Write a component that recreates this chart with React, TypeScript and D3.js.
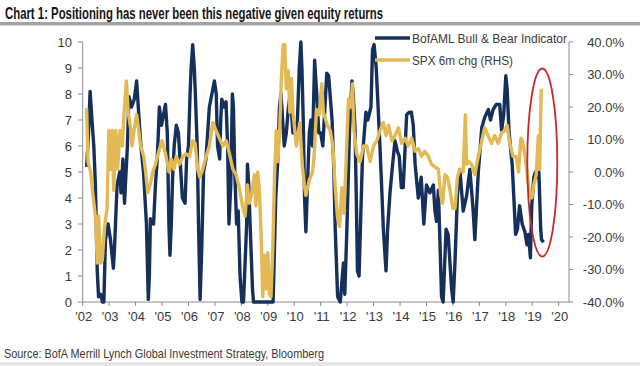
import React from "react";
import * as d3 from "d3";

const yearTicks = ["'02","'03","'04","'05","'06","'07","'08","'09","'10","'11","'12","'13","'14","'15","'16","'17","'18","'19","'20"];
const leftTicks = [0,1,2,3,4,5,6,7,8,9,10];
const rightTicks = [-40,-30,-20,-10,0,10,20,30,40];

const bbDates = [2002.15,2002.22,2002.28,2002.35,2002.42,2002.48,2002.55,2002.6,2002.68,2002.75,2002.8,2002.86,2002.96,2003.05,2003.16,2003.2,2003.3,2003.4,2003.45,2003.52,2003.58,2003.69,2003.75,2003.85,2003.95,2004.04,2004.12,2004.2,2004.3,2004.41,2004.48,2004.52,2004.56,2004.68,2004.75,2004.82,2004.9,2004.98,2005.13,2005.2,2005.26,2005.3,2005.35,2005.4,2005.46,2005.54,2005.62,2005.68,2005.77,2005.87,2005.93,2006.0,2006.06,2006.1,2006.16,2006.22,2006.26,2006.33,2006.38,2006.44,2006.5,2006.57,2006.66,2006.79,2006.98,2007.05,2007.1,2007.18,2007.22,2007.26,2007.35,2007.42,2007.48,2007.53,2007.6,2007.66,2007.7,2007.75,2007.82,2007.88,2007.95,2008.02,2008.08,2008.12,2008.2,2008.23,2008.28,2008.33,2008.42,2008.46,2009.2,2009.25,2009.3,2009.38,2009.44,2009.5,2009.56,2009.62,2009.7,2009.78,2009.85,2009.95,2010.05,2010.12,2010.19,2010.25,2010.29,2010.34,2010.39,2010.44,2010.5,2010.57,2010.63,2010.69,2010.77,2010.85,2010.93,2011.0,2011.08,2011.23,2011.3,2011.43,2011.49,2011.55,2011.64,2011.74,2011.86,2011.91,2011.99,2012.09,2012.18,2012.23,2012.3,2012.35,2012.39,2012.45,2012.52,2012.58,2012.71,2012.78,2012.9,2012.96,2013.02,2013.1,2013.18,2013.24,2013.31,2013.37,2013.47,2013.53,2013.62,2013.72,2013.81,2013.9,2013.97,2014.05,2014.12,2014.25,2014.35,2014.43,2014.5,2014.57,2014.69,2014.8,2014.9,2015.0,2015.13,2015.26,2015.32,2015.38,2015.45,2015.51,2015.57,2015.63,2015.74,2015.82,2015.95,2016.01,2016.08,2016.17,2016.26,2016.39,2016.52,2016.64,2016.76,2016.83,2016.96,2017.09,2017.2,2017.34,2017.42,2017.52,2017.64,2017.77,2017.84,2017.92,2018.0,2018.05,2018.12,2018.18,2018.24,2018.3,2018.37,2018.44,2018.52,2018.62,2018.72,2018.8,2018.86,2018.93,2018.98,2019.06,2019.12,2019.18,2019.25,2019.32,2019.35,2019.43];
const bbValues = [5.2,6.5,8.1,7.0,6.0,4.5,1.2,0.2,0.3,0,0,2.4,3.0,2.4,1.3,2.0,4.5,5.0,4.2,5.5,3.8,6.0,7.9,7.5,7.8,8.5,7.2,6.0,5.0,3.0,0.1,1.0,3.2,3.0,4.5,5.5,7.5,6.8,7.6,6.5,3.0,1.8,3.0,4.8,6.0,6.8,6.5,5.5,4.0,3.8,5.5,6.0,8.0,9.0,9.9,9.0,8.0,6.0,3.0,0.1,2.0,5.0,5.5,7.5,8.5,8.0,6.0,5.5,7.0,7.8,7.5,7.7,6.0,3.0,4.5,8.0,7.5,5.0,3.0,3.5,1.0,0,0,1.0,3.0,5.3,4.5,3.0,0.5,0,0,2.0,4.0,5.5,7.5,8.0,7.0,6.0,6.5,7.5,8.0,6.5,6.5,7.0,9.0,10.0,9.0,7.0,4.0,2.7,4.5,6.5,7.0,6.0,9.3,8.0,6.5,6.5,6.0,8.8,8.7,7.0,5.3,2.8,0.2,0,1.5,0.3,2.8,6.6,8.5,8.0,6.6,3.8,1.2,1.0,3.5,5.6,7.3,7.0,7.5,9.7,9.9,9.0,7.3,6.0,4.3,2.8,1.2,2.8,4.2,5.3,6.2,5.8,5.6,4.4,4.4,7.2,7.3,7.3,6.8,5.3,4.0,4.8,3.0,4.5,4.2,4.5,3.5,3.1,4.3,2.3,0.2,0,2.8,2.6,0.5,0,1.6,4.1,5.1,3.5,4.1,5.1,3.6,2.4,5.0,6.7,7.1,7.4,7.0,7.4,7.6,7.6,6.6,7.2,8.7,8.2,6.6,5.9,5.3,4.1,2.6,2.8,3.7,3.0,2.7,2.2,2.6,1.7,3.7,4.8,5.0,4.8,5.0,2.8,2.4,2.3];

const spxDates = [2002.15,2002.2,2002.3,2002.38,2002.49,2002.55,2002.6,2002.68,2002.74,2002.83,2002.92,2002.99,2003.05,2003.12,2003.17,2003.25,2003.32,2003.41,2003.5,2003.56,2003.65,2003.72,2003.81,2003.87,2003.94,2004.04,2004.12,2004.19,2004.31,2004.38,2004.46,2004.57,2004.65,2004.75,2004.88,2005.0,2005.13,2005.26,2005.35,2005.45,2005.54,2005.66,2005.79,2005.91,2006.04,2006.16,2006.25,2006.35,2006.43,2006.54,2006.67,2006.79,2006.92,2007.04,2007.21,2007.3,2007.43,2007.55,2007.68,2007.8,2007.92,2008.04,2008.14,2008.23,2008.3,2008.4,2008.49,2008.55,2008.62,2008.68,2008.74,2008.81,2008.87,2008.94,2009.0,2009.06,2009.12,2009.19,2009.25,2009.32,2009.38,2009.45,2009.51,2009.58,2009.64,2009.7,2009.77,2009.83,2009.89,2009.95,2010.02,2010.08,2010.21,2010.26,2010.31,2010.38,2010.44,2010.57,2010.69,2010.75,2010.84,2010.94,2011.04,2011.1,2011.25,2011.36,2011.46,2011.55,2011.63,2011.71,2011.8,2011.88,2011.96,2012.05,2012.14,2012.2,2012.26,2012.36,2012.49,2012.62,2012.74,2012.87,2013.0,2013.12,2013.25,2013.37,2013.47,2013.57,2013.69,2013.81,2013.94,2014.06,2014.19,2014.31,2014.44,2014.57,2014.69,2014.81,2014.94,2015.07,2015.19,2015.32,2015.45,2015.54,2015.61,2015.7,2015.79,2015.89,2016.0,2016.08,2016.17,2016.26,2016.39,2016.47,2016.52,2016.6,2016.7,2016.83,2016.96,2017.09,2017.2,2017.33,2017.46,2017.58,2017.71,2017.84,2017.96,2018.05,2018.15,2018.27,2018.39,2018.48,2018.57,2018.63,2018.73,2018.81,2018.9,2018.98,2019.06,2019.15,2019.23,2019.28,2019.34];
const spxValues = [19.6,3.2,0,-6.4,-14.4,-28,-13.6,-28,-27.2,-16.8,-11.2,12.8,0.8,12.8,-5.6,12.8,0.8,12.8,8,17.6,28,18.4,13.6,8,12.8,17.6,12.8,8,4.8,0,-6.4,-3.2,0,2.4,6.4,9.6,5.6,0,4,0.8,4.8,2.4,4.8,5.6,4.8,9.6,8.8,0.8,-1.6,0.8,4.8,8,15.2,12.8,9.6,8,9.6,5.6,0.8,-0.8,-4.8,-10.4,-13.6,-4,-9.6,-6.4,-0.8,-10.4,0,-5.6,-17.6,-38.4,-25.6,-36,-24.8,-37.6,-38.4,-23.2,-2.4,12.8,3.2,12.8,28,39.2,39.2,25.6,31.2,18.4,28.8,18.4,12.8,8,15.2,8,1.6,-4,-7.2,-2.4,0,4.8,19.2,17.6,27.2,18.4,14.4,12.8,8,-4.8,-13.6,-16.8,-4.8,-12.8,3.2,22.4,20,27.2,12.8,5.6,3.2,8,8,3.2,8,9.6,12.8,15.2,11.2,14.4,9.6,11.2,13.6,8.8,10.4,8,10.4,6.4,7.2,4.8,6.4,4.8,2.4,1.6,0.8,-7.2,-9.6,-0.8,-1.6,-5.6,-11.2,-11.2,-1.6,0.8,0,17.6,2.4,3.2,2.4,-0.8,4.8,9.6,13.6,11.2,8.8,11.2,8.8,12,12.8,14.4,8.8,4.8,4.8,0,10.4,9.6,4.8,-0.8,-7.2,-8,-4,-0.8,11.2,0.8,25.6];

const seriesNames = ["BofAML Bull & Bear Indicator", "SPX 6m chg (RHS)"];
const title = "Chart 1: Positioning has never been this negative given equity returns";
const source = "Source: BofA Merrill Lynch Global Investment Strategy, Bloomberg";

const NAVY = "#16305c";
const GOLD = "#e2b955";
const AXIS = "#8c8c8c";
const TXT = "#3a3a3a";
const FONT = "'Liberation Sans Narrow', 'Liberation Sans', Arial, sans-serif";
const TICKFONT = "'Liberation Sans', Arial, sans-serif";

export default function App() {
  const W = 640, H = 366;
  const x = d3.scaleLinear().domain([2002, 2020]).range([82.7, 558.7]);
  const yL = d3.scaleLinear().domain([0, 10]).range([302, 42]);
  const yR = d3.scaleLinear().domain([-40, 40]).range([302, 42]);
  const lineL = d3.line<number>().x((_, i) => x(bbDates[i])).y((d) => yL(d));
  const lineR = d3.line<number>().x((_, i) => x(spxDates[i])).y((d) => yR(d));
  const axisRight = 569;

  return (
    <svg width={W} height={H} style={{ position: "absolute", left: 0, top: 0, background: "#fff" }} fontFamily={FONT}>
      <rect x={0} y={0} width={W} height={H} fill="#fff" />
      <text x={5} y={19} fontSize={17} fontWeight="bold" fill="#151515" textLength={378} lengthAdjust="spacingAndGlyphs">{title}</text>
      <rect x={0} y={22} width={W} height={3} fill="#a3a3a3" />
      <rect x={0} y={25} width={W} height={1} fill="#d4d4d4" />

      {/* axes */}
      <line x1={82.7} x2={82.7} y1={42} y2={302} stroke={AXIS} strokeWidth={1} />
      <line x1={axisRight} x2={axisRight} y1={42} y2={302} stroke={AXIS} strokeWidth={1} />
      <line x1={82.7} x2={axisRight} y1={302} y2={302} stroke={AXIS} strokeWidth={1} />
      {leftTicks.map((t) => (
        <g key={"l" + t}>
          <line x1={78} x2={82.7} y1={yL(t)} y2={yL(t)} stroke={AXIS} />
          <text x={72} y={yL(t)} dy="0.35em" textAnchor="end" fontSize={13} fill={TXT} fontFamily={TICKFONT}>{t}</text>
        </g>
      ))}
      {rightTicks.map((t) => (
        <g key={"r" + t}>
          <line x1={axisRight} x2={axisRight + 4} y1={yR(t)} y2={yR(t)} stroke={AXIS} />
          <text x={624} y={yR(t)} dy="0.35em" textAnchor="end" fontSize={13} fill={TXT} fontFamily={TICKFONT}>{t.toFixed(1) + "%"}</text>
        </g>
      ))}
      {yearTicks.map((lab, i) => (
        <g key={"x" + lab}>
          <line x1={x(2002 + i)} x2={x(2002 + i)} y1={302} y2={306} stroke={AXIS} />
          <text x={x(2002 + i) + 1} y={321} textAnchor="middle" fontSize={13} fill={TXT} fontFamily={TICKFONT}>{lab}</text>
        </g>
      ))}

      {/* series */}
      <path d={lineL(bbValues) || ""} fill="none" stroke={NAVY} strokeWidth={3.4} strokeLinejoin="round" />
      <path d={lineR(spxValues) || ""} fill="none" stroke={GOLD} strokeWidth={3.4} strokeLinejoin="round" />

      {/* legend */}
      <line x1={375} x2={410} y1={38} y2={38} stroke={NAVY} strokeWidth={3.4} />
      <text x={412} y={38} dy="0.35em" fontSize={13.5} fill={TXT} textLength={155} lengthAdjust="spacingAndGlyphs">{seriesNames[0]}</text>
      <line x1={375} x2={410} y1={60} y2={60} stroke={GOLD} strokeWidth={3.4} />
      <text x={412} y={60} dy="0.35em" fontSize={13.5} fill={TXT} textLength={101} lengthAdjust="spacingAndGlyphs">{seriesNames[1]}</text>

      {/* highlight */}
      <ellipse cx={542.3} cy={162.5} rx={15} ry={94} fill="none" stroke="#c8282a" strokeWidth={1.8} />

      <text x={4} y={358} fontSize={13} fill={TXT} textLength={320} lengthAdjust="spacingAndGlyphs">{source}</text>
      <rect x={0} y={362} width={W} height={4} fill="#e6e6e6" />
    </svg>
  );
}
